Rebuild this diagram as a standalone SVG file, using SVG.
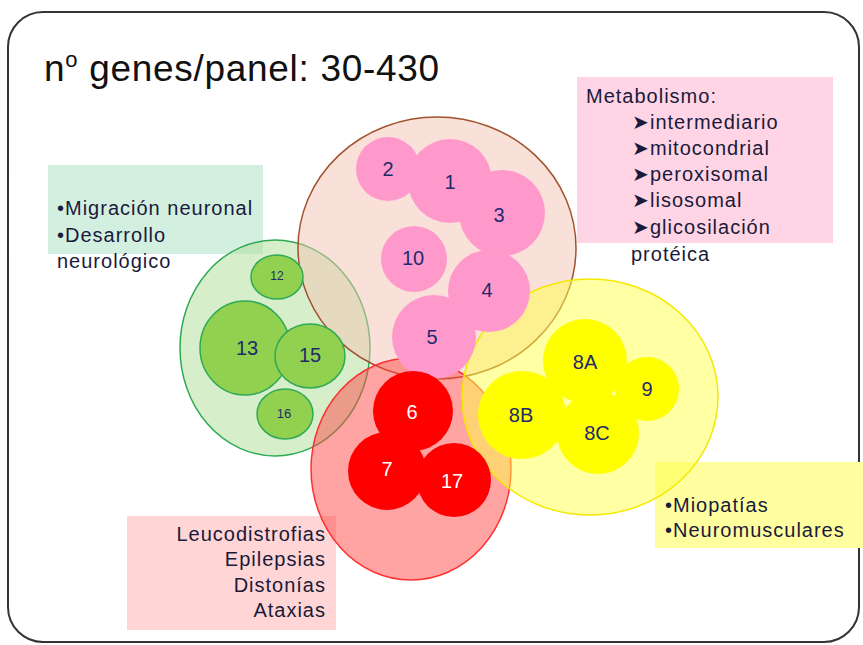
<svg xmlns="http://www.w3.org/2000/svg" width="863" height="645" viewBox="0 0 863 645">
<style>
.t{font-family:"Liberation Sans",Arial,sans-serif;fill:#1a1a3a}
.box{font-size:20px;letter-spacing:1px}
.lbl{font-family:"Liberation Sans",Arial,sans-serif;font-size:20px;fill:#1F2A6B;text-anchor:middle;dominant-baseline:central}
.w{fill:#ffffff}
.pink{fill:#FF99CC}
.gs{fill:#92D050;stroke:#2EAA55;stroke-width:1.5}
.rs{fill:#FF0000}
.ys{fill:#FFFF00}
</style>
<rect x="8" y="12" width="851" height="630" rx="35" fill="#ffffff" stroke="#333333" stroke-width="2"/>
<text class="t" x="44" y="81" font-size="37" letter-spacing="0.7" style="fill:#111111">n<tspan font-size="22" dy="-14">o</tspan><tspan dy="14"> genes/panel: 30-430</tspan></text>

<g id="box-metabolismo">
<rect x="577" y="77" width="256" height="166" fill="#FFD5E5"/>
<text class="t box" x="586" y="103">Metabolismo:</text>
<text class="t box" x="632" y="129">➤intermediario</text>
<text class="t box" x="632" y="155">➤mitocondrial</text>
<text class="t box" x="632" y="181">➤peroxisomal</text>
<text class="t box" x="632" y="207">➤lisosomal</text>
<text class="t box" x="632" y="234">➤glicosilación</text>
<text class="t box" x="631" y="261">protéica</text>
</g>
<g id="box-migracion">
<rect x="48" y="165" width="215" height="89" fill="#D3EFE0"/>
<text class="t box" x="57" y="215">•Migración neuronal</text>
<text class="t box" x="57" y="242">•Desarrollo</text>
<text class="t box" x="57" y="268">neurológico</text>
</g>
<g id="box-leuco">
<rect x="127" y="516" width="209" height="114" fill="#FFD5D5"/>
<text class="t box" x="326" y="541" text-anchor="end">Leucodistrofias</text>
<text class="t box" x="326" y="566" text-anchor="end">Epilepsias</text>
<text class="t box" x="326" y="592" text-anchor="end">Distonías</text>
<text class="t box" x="326" y="617" text-anchor="end">Ataxias</text>
</g>
<g id="box-mio">
<rect x="655" y="462" width="208" height="86" fill="#FFFF9F"/>
<text class="t box" x="665" y="512">•Miopatías</text>
<text class="t box" x="665" y="537">•Neuromusculares</text>
</g>

<g id="group-green">
<ellipse cx="275" cy="348" rx="95" ry="108" fill="#B0DE95" fill-opacity="0.5" stroke="#2EAA55" stroke-width="1.5"/>
</g>
<g id="group-brown">
<ellipse cx="437" cy="248" rx="139" ry="131" fill="#F3C3B3" fill-opacity="0.5" stroke="#A0522D" stroke-width="1.5"/>
</g>
<g id="group-red">
<ellipse cx="411" cy="469" rx="100" ry="111" fill="#FF4848" fill-opacity="0.5" stroke="#FF3030" stroke-width="1.5"/>
</g>
<g id="group-yellow">
<ellipse cx="590" cy="397" rx="128" ry="118" fill="#FFFF48" fill-opacity="0.5" stroke="#F5E800" stroke-width="1.5"/>
</g>

<g id="n2"><circle class="pink" cx="388" cy="169" r="32"/><text class="lbl" x="388" y="169">2</text></g>
<g id="n1"><circle class="pink" cx="450" cy="181" r="42"/><text class="lbl" x="450" y="182">1</text></g>
<g id="n3"><circle class="pink" cx="502" cy="213" r="43"/><text class="lbl" x="499" y="215">3</text></g>
<g id="n10"><circle class="pink" cx="414" cy="259" r="33"/><text class="lbl" x="413" y="258">10</text></g>
<g id="n4"><circle class="pink" cx="489" cy="291" r="41"/><text class="lbl" x="487" y="290">4</text></g>
<g id="n5"><circle class="pink" cx="434" cy="337" r="42"/><text class="lbl" x="432" y="337">5</text></g>

<g id="n12"><ellipse class="gs" cx="277" cy="277" rx="26" ry="22"/><text class="lbl" x="277" y="276" style="font-size:12px">12</text></g>
<g id="n13"><ellipse class="gs" cx="245" cy="348" rx="45" ry="47"/><text class="lbl" x="247" y="348">13</text></g>
<g id="n15"><ellipse class="gs" cx="310" cy="356" rx="35" ry="32"/><text class="lbl" x="310" y="355">15</text></g>
<g id="n16"><ellipse class="gs" cx="285" cy="414" rx="28" ry="25"/><text class="lbl" x="284" y="413" style="font-size:13px">16</text></g>

<g id="n6"><circle class="rs" cx="413" cy="411" r="40"/><text class="lbl w" x="412" y="412">6</text></g>
<g id="n7"><circle class="rs" cx="387" cy="471" r="39"/><text class="lbl w" x="387" y="469">7</text></g>
<g id="n17"><circle class="rs" cx="454" cy="480" r="37"/><text class="lbl w" x="452" y="481">17</text></g>

<g id="n8A"><circle class="ys" cx="585" cy="361" r="42"/><text class="lbl" x="585" y="362">8A</text></g>
<g id="n9"><circle class="ys" cx="647" cy="389" r="32"/><text class="lbl" x="647" y="389">9</text></g>
<g id="n8B"><circle class="ys" cx="522" cy="415" r="44"/><text class="lbl" x="521" y="415">8B</text></g>
<g id="n8C"><circle class="ys" cx="598" cy="433" r="41"/><text class="lbl" x="597" y="433">8C</text></g>

<g id="connectors"></g>
</svg>
